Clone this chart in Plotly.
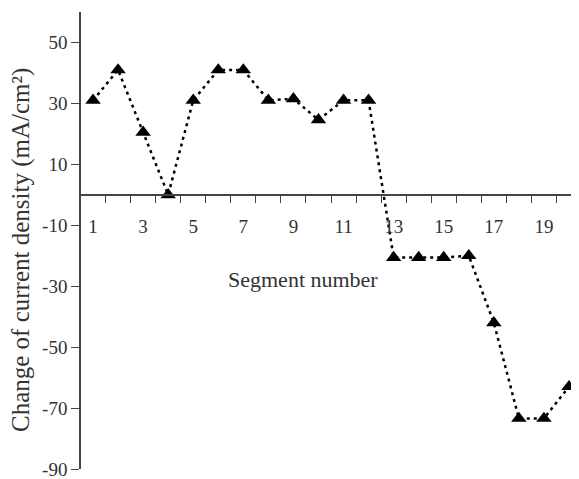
import plotly.graph_objects as go

segments = list(range(1, 21))
change = [31, 41, 20.5, 0, 31, 41, 41, 31, 31.5, 24.6, 31, 31,
          -20.6, -20.6, -20.6, -20, -42, -73.4, -73.4, -63]

y_ticks = [50, 30, 10, -10, -30, -50, -70, -90]
y_tick_text = ["50", "30", "10", "-10", "-30", "-50", "-70", "-90"]
x_label_ticks = [1, 3, 5, 7, 9, 11, 13, 15, 17, 19]
x_minor_ticks = [i + 0.5 for i in range(1, 20)]

FONT = "Liberation Serif, Times New Roman, serif"
AX = "#444444"
TXT = "#333333"

OFF = 8  # page body margin
W, H = 579 - OFF, 479 - OFF
L, R, T, B = 81 - OFF, 0, 12 - OFF, 10
pw, ph = W - L - R, H - T - B


def px_to_paper_x(px):
    return (px - OFF - L) / pw


def px_to_paper_y(py):
    return (OFF + H - B - py) / ph


fig = go.Figure()
fig.add_trace(go.Scatter(
    x=segments, y=change, mode="lines+markers",
    line=dict(color="black", width=2.5, dash="3px,4px"),
    marker=dict(symbol="triangle-up", size=13.5, color="black"),
    showlegend=False, cliponaxis=False,
))
fig.add_trace(go.Scatter(x=[segments[0]], y=[change[0]], xaxis="x2", mode="markers",
                         marker=dict(opacity=0), showlegend=False, hoverinfo="skip"))

xr = [0.52, 20.4]
fig.update_layout(
    width=W, height=H,
    margin=dict(l=L, r=R, t=T, b=B, autoexpand=False),
    paper_bgcolor="white", plot_bgcolor="white",
    font=dict(family=FONT, size=18, color=AX),
    xaxis=dict(range=xr, anchor="free", position=0.6, showline=True,
               linecolor=AX, linewidth=1.5, showgrid=False, zeroline=False,
               tickvals=x_minor_ticks, ticks="outside", ticklen=7, tickwidth=1.3,
               tickcolor=AX, showticklabels=False, automargin=False),
    xaxis2=dict(range=xr, overlaying="x", anchor="free", position=0.6,
                showline=False, showgrid=False, zeroline=False,
                tickvals=x_label_ticks, ticks="outside", ticklen=14,
                tickcolor="rgba(0,0,0,0)", showticklabels=True, automargin=False,
                tickfont=dict(family=FONT, size=19, color=TXT)),
    yaxis=dict(range=[-90, 60], showline=True, linecolor=AX, linewidth=1.5,
               showgrid=False, zeroline=False, tickvals=y_ticks, ticktext=y_tick_text,
               ticks="outside", ticklen=8, tickwidth=1.3, tickcolor=AX,
               automargin=False, ticklabeloverflow="allow",
               tickfont=dict(family=FONT, size=19, color=TXT)),
    annotations=[
        dict(text="Segment number", xref="paper", yref="paper",
             x=px_to_paper_x(226), y=px_to_paper_y(279), showarrow=False,
             font=dict(family=FONT, size=22, color=TXT)),
        dict(text="Change of current density (mA/cm²)", xref="paper", yref="paper",
             x=px_to_paper_x(21), y=px_to_paper_y(250), showarrow=False, textangle=-90,
             xanchor="center", yanchor="middle",
             font=dict(family=FONT, size=25, color=TXT)),
    ],
)

fig.write_html("out.html")
